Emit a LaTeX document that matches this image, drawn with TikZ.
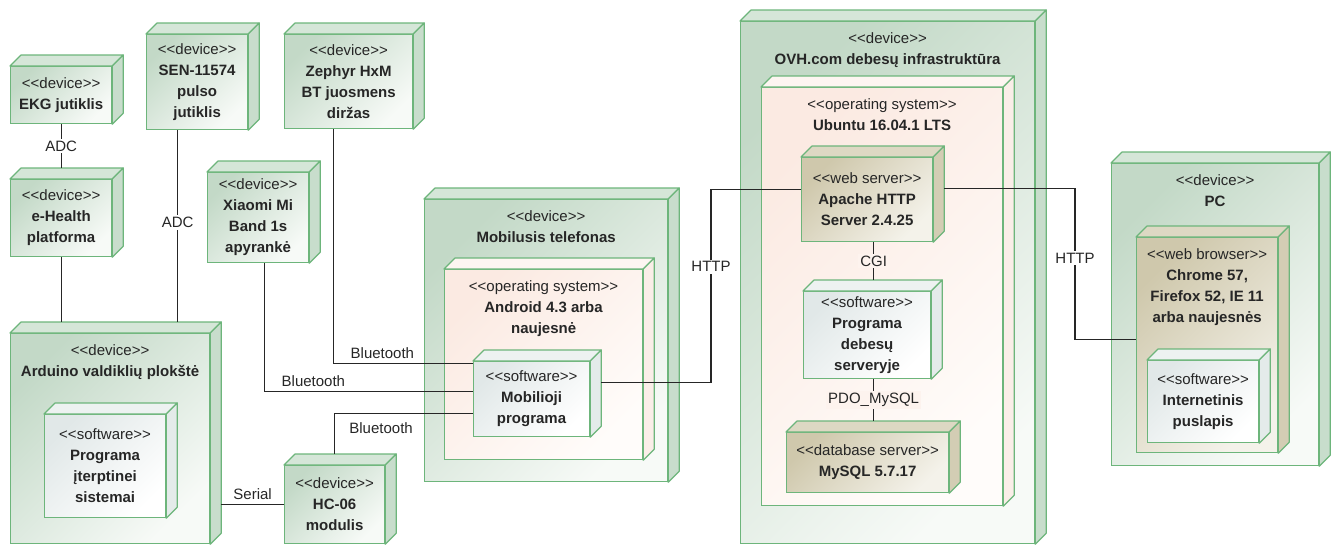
\documentclass[tikz,border=0pt]{standalone}
\usepackage{fontspec}
\setmainfont{Liberation Sans}

\definecolor{boxline}{HTML}{6DB57B}
\definecolor{devA}{HTML}{C3D9C7}
\definecolor{devB}{HTML}{F7FAF7}
\definecolor{devtop}{HTML}{D5E6D8}
\definecolor{devside}{HTML}{C8DDCC}
\definecolor{osA}{HTML}{FBEAE2}
\definecolor{osB}{HTML}{FFFCFA}
\definecolor{ostop}{HTML}{FDF5F1}
\definecolor{osside}{HTML}{FAEEE8}
\definecolor{ospale}{HTML}{FDF3EE}
\definecolor{swA}{HTML}{E1E8E8}
\definecolor{swB}{HTML}{FFFFFF}
\definecolor{swtop}{HTML}{EDF2F1}
\definecolor{swside}{HTML}{E4EBEA}
\definecolor{srvA}{HTML}{CFC8AC}
\definecolor{srvB}{HTML}{F4F2EA}
\definecolor{srvtop}{HTML}{DDD8C3}
\definecolor{srvside}{HTML}{D3CDB4}

\newcommand{\st}[1]{<{}<#1>{}>}
\newcommand{\sides}[2]{%
	\draw[face, fill=#2top] (#1.north west) -- ++(11,-11) -- ([shift={(11pt,11pt)}]#1.north east) -- (#1.north east) -- cycle;
	\draw[face, fill=#2side] (#1.north east) -- ([shift={(11pt,11pt)}]#1.north east) -- ([shift={(11pt,11pt)}]#1.south east) -- (#1.south east) -- cycle;
}

\begin{document}
\begin{tikzpicture}
	[x=1pt, y=-1pt,
	box/.style={draw=boxline, line width=1.2pt, anchor=north west, inner sep=0pt, align=center, text=black!85, font=\fontsize{15}{21}\selectfont},
	wh/.style 2 args={minimum width=#1, minimum height=#2},
	device/.style={box, top color=devA, bottom color=devB, shading angle=45},
	os/.style={box, top color=osA, bottom color=osB, shading angle=45},
	soft/.style={box, top color=swA, bottom color=swB, shading angle=45},
	server/.style={box, top color=srvA, bottom color=srvB, shading angle=45},
	face/.style={draw=boxline, line width=1.2pt, line join=round},
	head/.style={anchor=north, yshift=-11pt, inner sep=0pt, align=center, text=black!85, font=\fontsize{15}{21}\selectfont},
	link/.style={draw=black!85, line width=1.2pt},
	tag/.style={inner sep=2pt, text=black!85, font=\fontsize{15}{18}\selectfont},
	lbl/.style={tag, fill=white}]
	\useasboundingbox (0,0) rectangle (1338,544);

	%sensors
	\node[device, wh={101}{57}] (ekg) at (10,66) {\st{device}\\\textbf{EKG jutiklis}};
	\sides{ekg}{dev}
	\node[device, wh={101}{77}] (ehealth) at (10,179) {\st{device}\\\textbf{e-Health}\\\textbf{platforma}};
	\sides{ehealth}{dev}
	\node[device, wh={101}{95}] (sen) at (146,34) {\st{device}\\\textbf{SEN-11574}\\\textbf{pulso}\\\textbf{jutiklis}};
	\sides{sen}{dev}
	\node[device, wh={128}{94}] (zephyr) at (284,34) {\st{device}\\\textbf{Zephyr HxM}\\\textbf{BT juosmens}\\\textbf{diržas}};
	\sides{zephyr}{dev}
	\node[device, wh={101}{90}] (xiaomi) at (207,172) {\st{device}\\\textbf{Xiaomi Mi}\\\textbf{Band 1s}\\\textbf{apyrankė}};
	\sides{xiaomi}{dev}

	%Arduino
	\node[device, wh={199}{210}, label={[head]north:{\st{device}\\\textbf{Arduino valdiklių plokštė}}}] (arduino) at (10,333) {};
	\sides{arduino}{dev}
	\node[soft, wh={121}{103}] (embsw) at (44,414) {\st{software}\\\textbf{Programa}\\\textbf{įterptinei}\\\textbf{sistemai}};
	\sides{embsw}{sw}
	\node[device, wh={100}{78}] (hc) at (284,465) {\st{device}\\\textbf{HC-06}\\\textbf{modulis}};
	\sides{hc}{dev}

	%phone
	\node[device, wh={243}{282}, label={[head]north:{\st{device}\\\textbf{Mobilusis telefonas}}}] (phone) at (424,199) {};
	\sides{phone}{dev}
	\node[os, wh={198}{190}, label={[head]north:{\st{operating system}\\\textbf{Android 4.3 arba}\\\textbf{naujesnė}}}] (android) at (444,269) {};
	\sides{android}{os}
	\node[soft, wh={116}{75}] (mobapp) at (473,361) {\st{software}\\\textbf{Mobilioji}\\\textbf{programa}};
	\sides{mobapp}{sw}

	%cloud
	\node[device, wh={294}{522}, label={[head]north:{\st{device}\\\textbf{OVH.com debesų infrastruktūra}}}] (ovh) at (740,21) {};
	\sides{ovh}{dev}
	\node[os, wh={241}{418}, label={[head]north:{\st{operating system}\\\textbf{Ubuntu 16.04.1 LTS}}}] (ubuntu) at (761,87) {};
	\sides{ubuntu}{os}
	\node[server, wh={131}{84}] (apache) at (801,157) {\st{web server}\\\textbf{Apache HTTP}\\\textbf{Server 2.4.25}};
	\sides{apache}{srv}
	\node[soft, wh={127}{87}] (cloudsw) at (803,291) {\st{software}\\\textbf{Programa}\\\textbf{debesų}\\\textbf{serveryje}};
	\sides{cloudsw}{sw}
	\node[server, wh={162}{60}] (mysql) at (786,432) {\st{database server}\\\textbf{MySQL 5.7.17}};
	\sides{mysql}{srv}

	%PC
	\node[device, wh={207}{302}, label={[head]north:{\st{device}\\\textbf{PC}}}] (pc) at (1111,163) {};
	\sides{pc}{dev}
	\node[server, wh={141}{215}, label={[head]north:{\st{web browser}\\\textbf{Chrome 57,}\\\textbf{Firefox 52, IE 11}\\\textbf{arba naujesnės}}}] (browser) at (1136,237) {};
	\sides{browser}{srv}
	\node[soft, wh={111}{82}] (webpage) at (1147,360) {\st{software}\\\textbf{Internetinis}\\\textbf{puslapis}};
	\sides{webpage}{sw}

	%links
	\draw[link] (ekg.south) -- node[lbl]{ADC} ([yshift=11pt]ehealth.north);
	\draw[link] (ehealth.south) -- ([yshift=11pt]ehealth.south |- arduino.north);
	\draw[link] ([xshift=-19.5pt]sen.south) -- node[lbl, pos=0.48]{ADC} ([xshift=-19.5pt,yshift=11pt]sen.south |- arduino.north);
	\draw[link] ([xshift=-15pt]zephyr.south) |- node[tag, pos=0.675, above=2pt]{Bluetooth} ([yshift=35.5pt]mobapp.west);
	\draw[link] ([xshift=6.5pt]xiaomi.south) |- node[tag, pos=0.617, above=2pt]{Bluetooth} ([yshift=7.5pt]mobapp.west);
	\draw[link] ([yshift=11pt]hc.north) |- node[tag, pos=0.668, below=6pt]{Bluetooth} ([yshift=-14.5pt]mobapp.west);
	\draw[link] ([xshift=11pt]hc.west -| arduino.east) -- node[tag, above=2pt]{Serial} (hc.west);
	\draw[link] ([shift={(11pt,16.5pt)}]mobapp.east) -| node[lbl, pos=0.8]{HTTP} ([shift={(-90pt,10pt)}]apache.west) -- ([yshift=10pt]apache.west);
	\draw[link] ([shift={(11pt,11pt)}]apache.east) -| node[lbl, pos=0.73]{HTTP} ([shift={(-61pt,5.5pt)}]browser.west) -- ([yshift=5.5pt]browser.west);
	\draw[link] ([xshift=6.5pt]apache.south) -- node[lbl, fill=ospale]{CGI} ([shift={(6.5pt,11pt)}]cloudsw.north);
	\draw[link] ([xshift=6.5pt]cloudsw.south) -- node[lbl, fill=ospale]{PDO\_MySQL} ([xshift=6.5pt,yshift=11pt]cloudsw.south |- mysql.north);
\end{tikzpicture}
\end{document}
